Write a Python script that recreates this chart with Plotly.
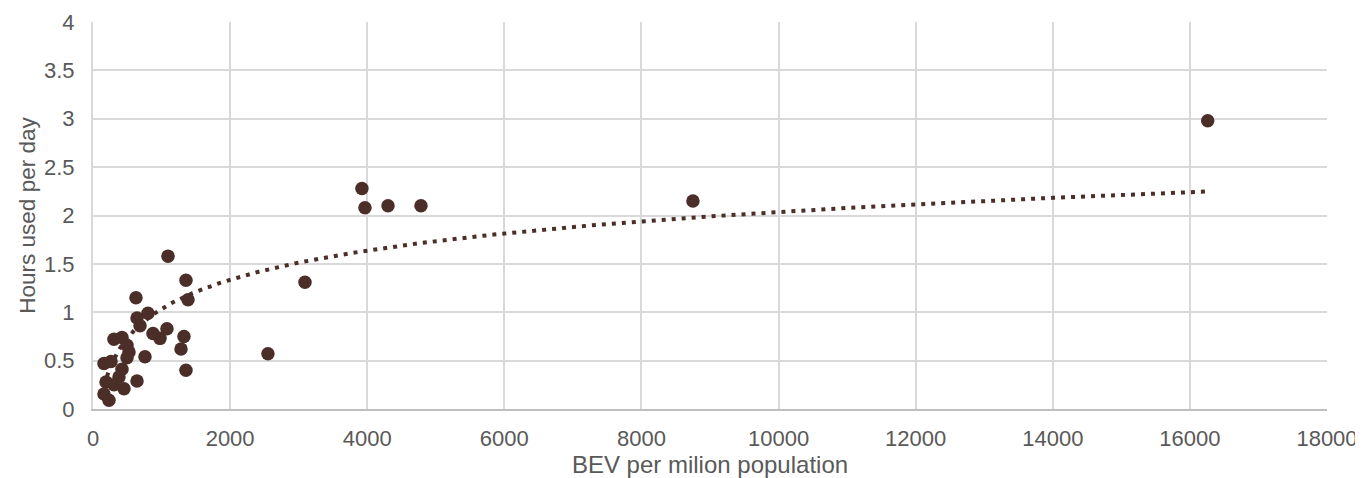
import numpy as np
import plotly.graph_objects as go

bev_per_million = [16260, 8751, 3923, 3967, 4303, 4784, 3092, 2552, 1094, 1356,
                   1386, 627, 802, 642, 686, 1079, 875, 977, 1327, 1284,
                   758, 1356, 642, 306, 423, 496, 525, 496, 160, 263,
                   423, 379, 190, 306, 452, 160, 233]
hours_per_day = [2.98, 2.15, 2.28, 2.08, 2.10, 2.10, 1.31, 0.57, 1.58, 1.33,
                 1.13, 1.15, 0.99, 0.94, 0.86, 0.83, 0.78, 0.73, 0.75, 0.62,
                 0.54, 0.40, 0.29, 0.72, 0.74, 0.66, 0.59, 0.53, 0.47, 0.49,
                 0.41, 0.33, 0.28, 0.25, 0.21, 0.155, 0.09]

x_ticks = list(range(0, 18001, 2000))
x_tick_labels = [str(v) for v in x_ticks]
y_ticks = [0, 0.5, 1, 1.5, 2, 2.5, 3, 3.5, 4]
y_tick_labels = ["0", "0.5", "1", "1.5", "2", "2.5", "3", "3.5", "4"]

# logarithmic trendline y = a*ln(x) + b, coefficients
trend_a = 0.435
trend_b = -1.97

color = "#4b2e28"
font_family = "Liberation Sans, Arial, sans-serif"
text_color = "#595959"

xa = np.array(bev_per_million, dtype=float)
tx = np.linspace(xa.min(), xa.max(), 400)
ty = trend_a * np.log(tx) + trend_b

fig = go.Figure()
fig.add_trace(go.Scatter(x=tx, y=ty, mode="lines",
                         line=dict(color=color, width=4, dash="4px,6px"),
                         hoverinfo="skip", showlegend=False))
fig.add_trace(go.Scatter(x=bev_per_million, y=hours_per_day, mode="markers",
                         marker=dict(color=color, size=13.5, line=dict(width=0)),
                         showlegend=False))

# the page body has an 8px margin, so the figure is sized to fit inside it
fig.update_layout(
    width=1355, height=470,
    margin=dict(l=85, r=36, t=14, b=69),
    paper_bgcolor="white", plot_bgcolor="white",
    font=dict(family=font_family, color=text_color, size=22),
)
fig.update_xaxes(range=[0, 18000], tickvals=x_ticks, ticktext=x_tick_labels,
                 showgrid=True, automargin=False,
                 gridcolor="#d9d9d9", gridwidth=2, zeroline=False,
                 showline=True, linecolor="#bfbfbf", linewidth=2,
                 ticks="", ticklabelstandoff=9,
                 tickfont=dict(size=22, color=text_color),
                 title=dict(text="BEV per milion population", standoff=8,
                            font=dict(size=24, color=text_color)))
fig.update_yaxes(range=[0, 4], tickvals=y_ticks, ticktext=y_tick_labels,
                 showgrid=True, automargin=False, gridcolor="#d9d9d9", gridwidth=2,
                 zeroline=False, showline=True, linecolor="#d9d9d9", linewidth=2,
                 ticks="", ticklabelstandoff=12,
                 tickfont=dict(size=22, color=text_color),
                 title=dict(text="Hours used per day", standoff=2,
                            font=dict(size=22.5, color=text_color)))

fig.write_html("out.html")
